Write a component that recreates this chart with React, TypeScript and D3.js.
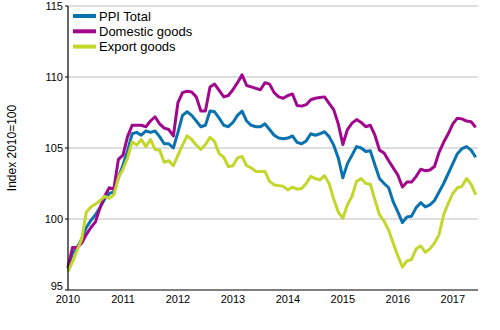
import React from "react";
import * as d3 from "d3";

const startYear = 2010;
const yearLabels = ["2010", "2011", "2012", "2013", "2014", "2015", "2016", "2017"];
const yTicks = [95, 100, 105, 110, 115];
const seriesNames = ["PPI Total", "Domestic goods", "Export goods"];
const yTitle = "Index 2010=100";

// Monthly values, Jan 2010 .. Jun 2017
const ppiTotal = [
  96.5, 97.6, 98.0, 98.6, 99.4, 99.9, 100.3, 100.8, 101.4, 101.8, 101.9, 102.9,
  103.8, 104.8, 106.0, 106.1, 105.9, 106.2, 106.1, 106.2, 105.8, 105.3, 105.3, 105.0,
  106.1, 107.3, 107.55, 107.3, 106.9, 106.5, 106.6, 107.6, 107.55, 107.1, 106.6, 106.5,
  106.8, 107.3, 107.6, 106.9, 106.6, 106.5, 106.5, 106.7, 106.3, 105.9, 105.7, 105.65,
  105.7, 105.85, 105.4, 105.3, 105.5, 106.0, 105.9, 106.0, 106.15, 105.8, 105.2, 104.3,
  102.9, 103.9, 104.5, 105.1, 105.0, 104.75, 104.8, 103.8, 102.85, 102.5, 102.2, 101.2,
  100.5, 99.75, 100.15, 100.2, 100.8, 101.15, 100.85, 101.0, 101.3, 101.9, 102.5, 103.2,
  103.9, 104.6, 104.95, 105.1, 104.85, 104.35,
];
const domesticGoods = [
  96.6, 98.0, 98.0, 98.3, 98.9, 99.4, 99.8, 100.8, 101.6, 102.2, 102.1, 104.2,
  104.5, 105.8, 106.6, 106.6, 106.6, 106.5, 106.9, 107.2, 106.7, 106.4, 106.3, 105.85,
  108.2, 108.9, 109.0, 108.95, 108.6, 107.6, 107.6, 109.3, 109.5, 109.05, 108.6, 108.7,
  109.1, 109.6, 110.15, 109.4, 109.3, 109.2, 109.1, 109.6, 109.5, 108.9, 108.6, 108.5,
  108.7, 108.8, 108.0, 107.95, 108.05, 108.4, 108.5, 108.55, 108.6, 108.15, 107.7, 106.7,
  105.25, 106.3, 106.75, 107.0, 106.8, 106.5, 106.6, 105.9, 104.85, 104.65, 104.1, 103.6,
  103.1, 102.25, 102.6, 102.6, 103.0, 103.5, 103.4, 103.45, 103.7, 104.7, 105.4, 106.0,
  106.7, 107.1, 107.05, 106.9, 106.85, 106.45,
];
const exportGoods = [
  96.3, 97.0, 97.8, 98.6, 100.5, 100.85, 101.05, 101.3, 101.6, 101.45, 101.7, 102.9,
  103.5, 104.3, 105.45, 105.2, 105.6, 105.1, 105.6, 104.9, 104.85, 104.0, 104.1, 103.75,
  104.5, 105.2, 105.85, 105.6, 105.2, 104.9, 105.25, 105.75, 105.45, 104.6, 104.35, 103.7,
  103.75, 104.3, 104.4, 103.75, 103.6, 103.35, 103.35, 103.35, 102.65, 102.4, 102.35, 102.3,
  102.05, 102.25, 102.1, 102.15, 102.5, 103.0, 102.85, 102.75, 103.05, 102.5, 101.4, 100.5,
  100.05, 101.0, 101.6, 102.65, 102.85, 102.5, 102.45, 101.35, 100.3, 99.85, 99.2, 98.3,
  97.4, 96.62, 97.05, 97.15, 97.9, 98.1, 97.65, 97.9, 98.3, 98.9, 100.3, 101.1,
  101.8, 102.2, 102.3, 102.85, 102.45, 101.7,
];

const colors = ["#0a72ae", "#a1088c", "#c2d62c"];

export default function App() {
  const left = 68, right = 478, top = 6, bottom = 290;
  const x = d3.scaleLinear().domain([0, 89.5]).range([left, right]);
  const y = d3.scaleLinear().domain([95, 115]).range([bottom, top]);
  const font = "Arial, 'Liberation Sans', sans-serif";
  const line = d3
    .line<number>()
    .x((_, i) => x(i))
    .y((d) => y(d))
    .curve(d3.curveLinear);
  const series = [ppiTotal, domesticGoods, exportGoods];

  return (
    <svg
      width={500}
      height={330}
      style={{ position: "absolute", left: 0, top: 0, background: "#fff" }}
      fontFamily={font}
    >
      {yTicks.slice(1).map((t) => (
        <line key={"g" + t} x1={left} x2={right} y1={y(t)} y2={y(t)} stroke="#bdbdbd" strokeWidth={1} />
      ))}
      {yTicks.map((t, i) => (
        <g key={"t" + t}>
          <line x1={left - 3} x2={left} y1={y(t)} y2={y(t)} stroke="#000" />
          <text
            x={left - 5}
            y={y(t) - (i === 0 ? 4 : 0)}
            dy="0.35em"
            textAnchor="end"
            fontSize={11}
            fill="#000"
          >
            {t}
          </text>
        </g>
      ))}
      {yearLabels.map((lab, i) => (
        <text key={lab} x={x(i * 12)} y={303} textAnchor="middle" fontSize={11} fill="#000">
          {lab}
        </text>
      ))}
      <text
        transform={`translate(16,${(top + bottom) / 2}) rotate(-90)`}
        textAnchor="middle"
        fontSize={12}
        fill="#000"
      >
        {yTitle}
      </text>
      {series.map((s, i) => (
        <path
          key={seriesNames[i]}
          d={line(s) || ""}
          fill="none"
          stroke={colors[i]}
          strokeWidth={3}
          strokeLinejoin="round"
        />
      ))}
      <line x1={left} x2={left} y1={top} y2={bottom} stroke="#000" strokeWidth={1.2} />
      <line x1={left} x2={right} y1={bottom} y2={bottom} stroke="#000" strokeWidth={1.2} />
      {seriesNames.map((n, i) => (
        <g key={"l" + n}>
          <line x1={73} x2={96} y1={16 + i * 15.3} y2={16 + i * 15.3} stroke={colors[i]} strokeWidth={4} />
          <text x={99} y={16 + i * 15.3} dy="0.36em" fontSize={13} fill="#000">
            {n}
          </text>
        </g>
      ))}
    </svg>
  );
}
